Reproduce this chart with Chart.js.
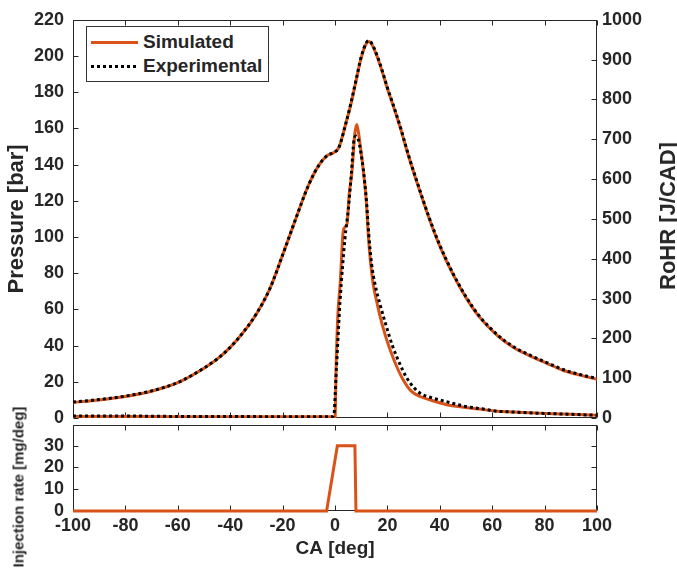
<!DOCTYPE html>
<html>
<head>
<meta charset="utf-8">
<script src="https://cdn.jsdelivr.net/npm/chart.js@4.4.0/dist/chart.umd.min.js"></script>
<style>
  body { margin: 0; background: #fff; }
  #wrap { position: relative; width: 677px; height: 571px; font-family: "Liberation Sans", Arial, sans-serif; font-weight: bold; color: #262626; }
  canvas { position: absolute; left: 0; top: 0; }
  .legend { position: absolute; left: 86px; top: 26px; width: 181px; height: 54px; border: 1px solid #333; background: #fff; font-size: 19px; }
  .row { position: absolute; left: 4px; height: 22px; line-height: 22px; white-space: nowrap; }
  .sample { display: inline-block; width: 47px; height: 3px; vertical-align: middle; margin-right: 5px; }
  .sim { background: #D95319; }
  .exp { background: repeating-linear-gradient(90deg, #000 0 3px, transparent 3px 6px); }
  .ytitle { position: absolute; transform: translate(-50%, -50%) rotate(-90deg); white-space: nowrap; }
</style>
</head>
<body>
<div id="wrap">
  <canvas id="graficoTopo" width="677" height="571"></canvas>
  <canvas id="graficoInj" width="677" height="571"></canvas>
  <div class="legend">
    <div class="row" style="top:4px"><span class="sample sim"></span>Simulated</div>
    <div class="row" style="top:28px"><span class="sample exp"></span>Experimental</div>
  </div>
  <div class="ytitle" style="left:668px; top:216px; font-size:22px;">RoHR [J/CAD]</div>
  <div class="ytitle" style="left:18px; top:487px; font-size:15px;">Injection rate [mg/deg]</div>
</div>
<script>
// ticks
const caTicks = [-100, -80, -60, -40, -20, 0, 20, 40, 60, 80, 100];
const pTicks = [0, 20, 40, 60, 80, 100, 120, 140, 160, 180, 200, 220];
const rTicks = [0, 100, 200, 300, 400, 500, 600, 700, 800, 900, 1000];
const injTicks = [0, 10, 20, 30];

// pressure [bar]
const caP = [-100, -90, -80, -70, -60, -50, -45, -40, -35, -30, -25, -20, -15, -10, -6, -3, 0, 1.5, 4, 6, 8, 10, 12, 13, 14, 16, 18, 20, 22, 25, 28, 32, 36, 40, 45, 50, 55, 62, 68, 74, 81, 87, 93.5, 100];
const pSim = [8.6, 10.0, 11.9, 14.8, 19.5, 27.5, 32.5, 39, 47.3, 57.5, 71, 90, 110, 129, 140, 145, 147, 149.5, 162, 173, 186, 199, 207, 208, 206.5, 200, 191.5, 182, 173.5, 160, 145, 127, 110, 95, 79.5, 66.5, 56, 45.5, 39.1, 34.6, 30.1, 26.4, 23.7, 21.4];
const pExp = [8.8, 10.2, 12.1, 15.0, 19.6, 27.6, 32.6, 39, 47.4, 57.6, 71, 90, 110, 129, 140, 145, 147, 149.5, 162, 173.5, 186.5, 199.5, 207.5, 208.5, 207, 200.5, 192, 182.5, 174, 160.5, 145.5, 127.5, 110.5, 95.5, 80, 67, 56.5, 46, 39.5, 35, 30.5, 26.8, 24, 21.8];

// RoHR [J/CAD]
const caRs = [-100, -80, -60, -40, -20, -5, -1, 0, 0.5, 1.1, 2.0, 3.0, 3.6, 4.6, 5.4, 6.5, 7.5, 8.3, 9.0, 10, 11, 12, 12.7, 13.5, 14.6, 16, 17.2, 19, 21, 23.5, 26, 29, 32.5, 37, 42.6, 49, 55, 62, 68, 74, 80, 87, 93, 100];
const rSim = [4, 4, 3, 3, 3, 3, 3, 0, 150, 260, 340, 460, 478, 488, 560, 620, 710, 737, 715, 665, 610, 540, 460, 395, 335, 290, 255, 212, 172, 130, 96, 68, 54, 44, 33.5, 27, 22.5, 17, 15, 13, 11.5, 10, 8.5, 7];
const caRe = [-100, -80, -60, -40, -20, -5, -1.5, -0.5, 0.5, 1.9, 3.8, 5.1, 6.2, 7.3, 8.0, 8.9, 9.8, 10.8, 12, 12.9, 14, 15.3, 17.2, 19.7, 22, 24.8, 27, 30, 33, 36.3, 42.6, 49, 55, 58, 62, 68, 74, 80, 87, 93, 100];
const rExp = [5, 5, 4, 4, 3, 3, 3, 5, 120, 290, 451, 525, 610, 700, 708, 699, 670, 625, 545, 460, 385, 335, 285, 228, 180, 135, 105, 77, 60, 52, 41, 30, 24, 21, 17, 15, 13, 11.5, 10, 8.5, 7];

// injection rate [mg/deg]
const caInj = [-100, -3.2, 0.9, 7.6, 8.0, 100];
const inj = [0, 0, 30, 30, 0, 0];

const laranja = "#D95319";
const eixo = "#262626";

Chart.defaults.font.family = "'Liberation Sans', Arial, sans-serif";
Chart.defaults.font.size = 18;
Chart.defaults.font.weight = "bold";
Chart.defaults.color = eixo;

function pontos(xs, ys) {
  return xs.map((x, i) => ({ x: x, y: ys[i] }));
}

// caixa + marcas de escala para dentro (estilo MATLAB)
const moldura = {
  id: "moldura",
  beforeDatasetsDraw(chart, args, o) {
    const { ctx, chartArea: a, scales } = chart;
    const L = Math.round(a.left) + 0.5, R = Math.round(a.right) - 0.5;
    const T = Math.round(a.top) + 0.5, B = Math.round(a.bottom) - 0.5;
    ctx.save();
    ctx.strokeStyle = eixo;
    ctx.lineWidth = 1;
    ctx.strokeRect(L, T, R - L, B - T);
    ctx.beginPath();
    caTicks.forEach((v) => {
      const x = Math.round(scales.x.getPixelForValue(v)) + 0.5;
      ctx.moveTo(x, B); ctx.lineTo(x, B - 5);
      ctx.moveTo(x, T); ctx.lineTo(x, T + 5);
    });
    o.left.forEach((v) => {
      const y = Math.round(scales.y.getPixelForValue(v)) + 0.5;
      ctx.moveTo(L, y); ctx.lineTo(L + 5, y);
      if (!o.right) { ctx.moveTo(R, y); ctx.lineTo(R - 5, y); }
    });
    if (o.right) {
      o.right.forEach((v) => {
        const y = Math.round(scales.y1.getPixelForValue(v)) + 0.5;
        ctx.moveTo(R, y); ctx.lineTo(R - 5, y);
      });
    }
    ctx.stroke();
    ctx.restore();
  },
};

const linha = { pointRadius: 0, fill: false, cubicInterpolationMode: "monotone" };
const semVirgula = (v) => String(v);

new Chart(document.getElementById("graficoTopo"), {
  type: "line",
  data: {
    datasets: [
      { ...linha, label: "Experimental", data: pontos(caP, pExp), yAxisID: "y", borderColor: "#000", borderWidth: 3, borderDash: [3, 3], order: 0 },
      { ...linha, label: "Experimental", data: pontos(caRe, rExp), yAxisID: "y1", borderColor: "#000", borderWidth: 3, borderDash: [3, 3], order: 0 },
      { ...linha, label: "Simulated", data: pontos(caP, pSim), yAxisID: "y", borderColor: laranja, borderWidth: 3, order: 1 },
      { ...linha, label: "Simulated", data: pontos(caRs, rSim), yAxisID: "y1", borderColor: laranja, borderWidth: 3, order: 1 },
    ],
  },
  options: {
    responsive: false,
    animation: false,
    layout: { padding: { top: 14, bottom: 153, left: 0, right: 0 } },
    plugins: { legend: { display: false }, tooltip: { enabled: false }, moldura: { left: pTicks, right: rTicks } },
    scales: {
      x: { type: "linear", min: -100, max: 100, display: false },
      y: {
        position: "left", min: 0, max: 220,
        grid: { display: false, drawTicks: false }, border: { display: false },
        ticks: { padding: 9, callback: semVirgula },
        afterBuildTicks: (s) => { s.ticks = pTicks.map((v) => ({ value: v })); },
        afterFit: (s) => { s.width = 73; },
        title: { display: true, text: "Pressure [bar]", font: { size: 22 }, padding: { top: 4 } },
      },
      y1: {
        position: "right", min: 0, max: 1000,
        grid: { display: false, drawTicks: false }, border: { display: false },
        ticks: { padding: 5, callback: semVirgula },
        afterBuildTicks: (s) => { s.ticks = rTicks.map((v) => ({ value: v })); },
        afterFit: (s) => { s.width = 80; },
      },
    },
  },
  plugins: [moldura],
});

new Chart(document.getElementById("graficoInj"), {
  type: "line",
  data: {
    datasets: [
      { label: "Simulated", data: pontos(caInj, inj), borderColor: laranja, borderWidth: 3, pointRadius: 0, tension: 0, clip: 4 },
    ],
  },
  options: {
    responsive: false,
    animation: false,
    layout: { padding: { top: 425, bottom: 0, left: 0, right: 80 } },
    plugins: { legend: { display: false }, tooltip: { enabled: false }, moldura: { left: injTicks } },
    scales: {
      x: {
        type: "linear", min: -100, max: 100,
        grid: { display: false, drawTicks: false }, border: { display: false },
        ticks: { padding: 4, callback: semVirgula },
        afterBuildTicks: (s) => { s.ticks = caTicks.map((v) => ({ value: v })); },
        afterFit: (s) => { s.height = 60; },
        title: { display: true, text: "CA [deg]", font: { size: 19 }, padding: { bottom: 11 } },
      },
      y: {
        position: "left", min: 0, max: 39.5,
        grid: { display: false, drawTicks: false }, border: { display: false },
        ticks: { padding: 9, callback: semVirgula },
        afterBuildTicks: (s) => { s.ticks = injTicks.map((v) => ({ value: v })); },
        afterFit: (s) => { s.width = 73; },
      },
    },
  },
  plugins: [moldura],
});
</script>
</body>
</html>
